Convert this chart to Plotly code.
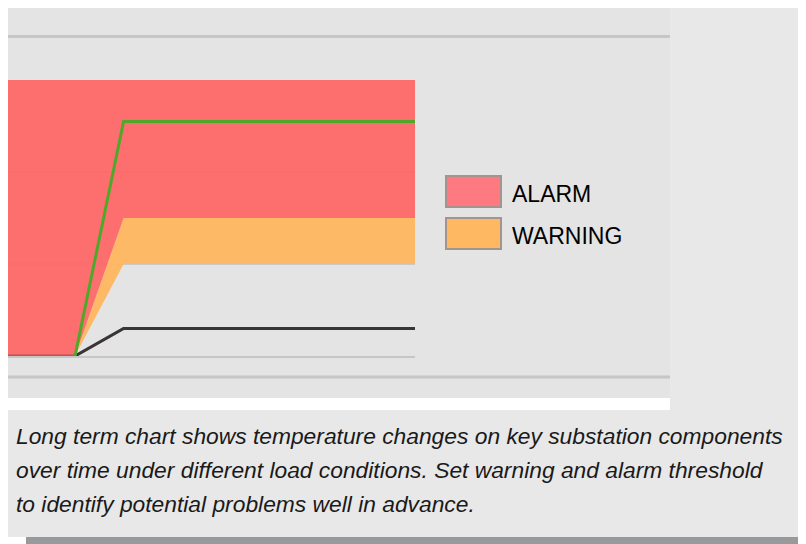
import plotly.graph_objects as go

# ---- data ----
time_idx = [-2, 0, 1, 7]
warning_low = [20, 20, 40, 40]
warning_high = [20, 20, 50, 50]
alarm_high = [80, 80, 80, 80]
green_x = [0, 1, 7]
green_y = [20, 71, 71]
dark_y = [20, 20, 26, 26]
legend_labels = ["ALARM", "WARNING"]
caption_lines = [
    "Long term chart shows temperature changes on key substation components",
    "over time under different load conditions. Set warning and alarm threshold",
    "to identify potential problems well in advance.",
]

OFF = 8  # default page body margin
W, H = 806 - OFF, 544 - OFF
L, R, T, B = 8, 415, 80, 356  # plot area in window pixels


def px(x):
    return (x - L) / (R - L)


def py(y):
    return (B - y) / (B - T)


RED = "rgba(255,100,100,0.92)"
ORANGE = "rgba(255,183,98,0.96)"

fig = go.Figure()
fig.add_trace(go.Scatter(x=time_idx, y=dark_y, mode="lines",
                         line=dict(color="#3a3a3a", width=3), hoverinfo="skip"))
fig.add_trace(go.Scatter(x=time_idx, y=warning_low, mode="lines",
                         line=dict(width=0), hoverinfo="skip"))
fig.add_trace(go.Scatter(x=time_idx, y=warning_high, mode="lines", fill="tonexty",
                         fillcolor=ORANGE, line=dict(width=0), hoverinfo="skip"))
fig.add_trace(go.Scatter(x=time_idx, y=alarm_high, mode="lines", fill="tonexty",
                         fillcolor=RED, line=dict(width=0), hoverinfo="skip"))
fig.add_trace(go.Scatter(x=time_idx, y=dark_y, mode="lines",
                         line=dict(color="rgba(60,40,40,0.25)", width=3), hoverinfo="skip"))
fig.add_trace(go.Scatter(x=green_x, y=green_y, mode="lines",
                         line=dict(color="#4fa82a", width=3), hoverinfo="skip"))

shapes = []


def rect(x0, y0, x1, y1, color, layer="below", line=None):
    d = dict(type="rect", xref="paper", yref="paper",
             x0=px(x0), x1=px(x1), y0=py(y1), y1=py(y0),
             fillcolor=color, layer=layer, line=dict(width=0))
    if line:
        d["line"] = line
    shapes.append(d)


# shadow, main box, chart image region, white strip
rect(26, 26, 808, 546, "#98999a")
rect(7, 8, 804, 537, "#e8e8e8")
rect(7, 8, 670, 398, "#e4e4e4")
rect(7, 398, 670, 410, "#ffffff")
# frame lines
for yy in (36.5, 377):
    shapes.append(dict(type="line", xref="paper", yref="paper", x0=px(7), x1=px(670),
                       y0=py(yy), y1=py(yy), layer="below",
                       line=dict(color="#c6c6c6", width=3)))

# legend swatches
sw_colors = ["#ff7a80", "#ffb862"]
sw_tops = [176, 218]
for c, t in zip(sw_colors, sw_tops):
    rect(446, t, 501, t + 31, c, layer="above", line=dict(color="#a39490", width=2))

annotations = []
for lab, t in zip(legend_labels, sw_tops):
    annotations.append(dict(xref="paper", yref="paper", x=px(510), y=py(t + 18),
                            xanchor="left", yanchor="middle", showarrow=False,
                            text=lab, font=dict(family="Liberation Sans, Arial",
                                                size=23, color="#000000")))

cap_baselines = [443, 477, 511]
for txt, bl in zip(caption_lines, cap_baselines):
    annotations.append(dict(xref="paper", yref="paper", x=px(14), y=py(bl - 7),
                            xanchor="left", yanchor="middle", showarrow=False,
                            text="<i>" + txt + "</i>",
                            font=dict(family="Liberation Sans, Arial",
                                      size=22.8, color="#1a1a1a")))

fig.update_layout(
    width=W, height=H,
    margin=dict(l=L - OFF, r=806 - R, t=T - OFF, b=544 - B, pad=0),
    paper_bgcolor="#ffffff", plot_bgcolor="#e4e4e4",
    showlegend=False,
    shapes=shapes, annotations=annotations,
    xaxis=dict(range=[-1.38, 7], showgrid=False, zeroline=False, showticklabels=False,
               ticks="", showline=True, linecolor="#c6c6c6", linewidth=2, fixedrange=True),
    yaxis=dict(range=[20, 80], dtick=20, tick0=0, showgrid=True, gridcolor="#c9c9c9",
               gridwidth=2, zeroline=False, showticklabels=False, ticks="", fixedrange=True),
)

fig.write_html("out.html", config={"displayModeBar": False})
